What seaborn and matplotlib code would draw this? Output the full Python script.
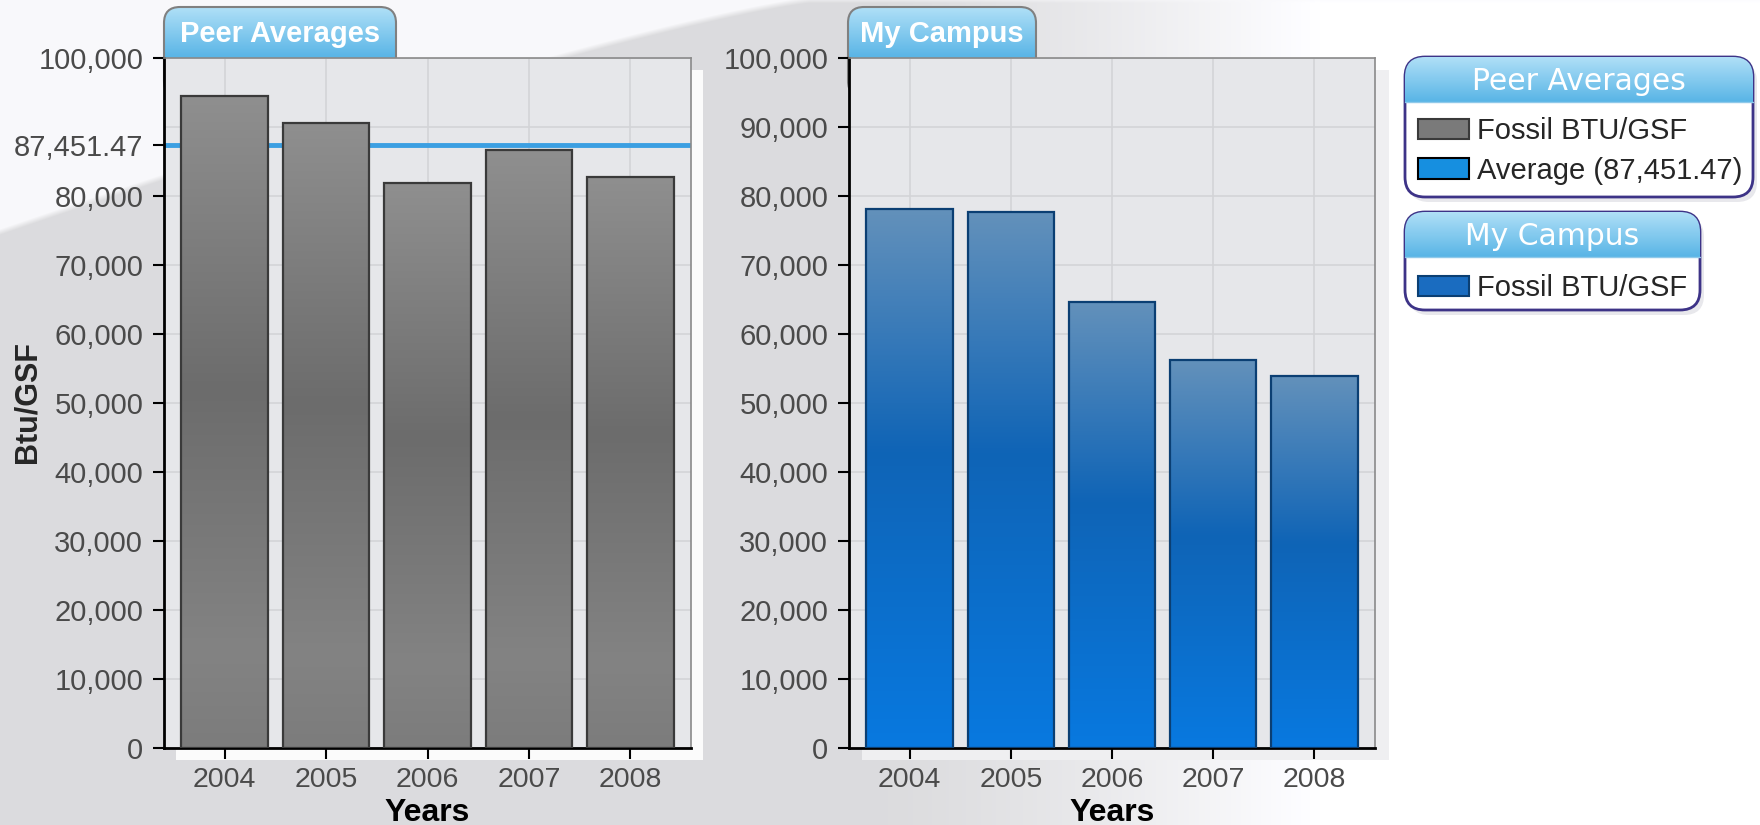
import numpy as np
import matplotlib
matplotlib.use("Agg")
import matplotlib.pyplot as plt
import seaborn as sns
from matplotlib.colors import LinearSegmentedColormap
from matplotlib.patches import FancyBboxPatch, Patch, Rectangle

# values
years = ["2004", "2005", "2006", "2007", "2008"]
peer_btu = [94430, 90590, 81880, 86650, 82760]
campus_btu = [78060, 77680, 64680, 56230, 53900]
peer_average = 87451.47
y_ticks = [0, 10000, 20000, 30000, 40000, 50000, 60000, 70000, 80000, 90000, 100000]

W, H = 1760, 825

sns.set_style("white")
plt.rcParams["font.family"] = ["Liberation Sans", "DejaVu Sans"]

fig = plt.figure(figsize=(17.6, 8.25), dpi=100)
fig.patch.set_facecolor("white")


def gradient_fill(ax, extent, stops, clip, zorder):
    cmap = LinearSegmentedColormap.from_list("grad", stops, N=512)
    grad = np.linspace(0, 1, 512).reshape(-1, 1)
    im = ax.imshow(grad, cmap=cmap, extent=extent, aspect="auto", origin="upper",
                   zorder=zorder, interpolation="bilinear")
    im.set_clip_path(clip)
    return im


# background layer in pixel coordinates
bg = fig.add_axes([0, 0, 1, 1], zorder=-5)
X, Y = np.meshgrid(np.arange(W) + 0.5, np.arange(H) + 0.5)
shade = 0.862 + 0.138 * np.clip((X - 880) / 440, 0, 1) ** 1.3
curve = 232 * np.clip(1 - X / 810, 0, 1) ** 1.2
edge = np.clip((curve - Y) / 6 + 0.5, 0, 1)
shade = shade * (1 - edge) + 0.975 * edge
bg.imshow(np.dstack([shade, shade, np.clip(shade * 1.01, 0, 1)]), extent=(0, W, H, 0),
          aspect="auto", interpolation="bilinear", zorder=0)
bg.set_xlim(0, W)
bg.set_ylim(H, 0)
bg.axis("off")

# panel shadows
bg.add_patch(Rectangle((176, 70), 527, 690, fc="#fbfbfb", ec="none", zorder=1))
bg.add_patch(Rectangle((862, 70), 527, 690, fc="#efeff1", ec="none", zorder=1))

tab_stops = [(0, "#b0e0f7"), (1, "#58b4e6")]


def tab(x0, width, label):
    box = FancyBboxPatch((x0, 7), width, 90, boxstyle="round,pad=0,rounding_size=16",
                         fc="none", ec="#808080", lw=1.5, zorder=3)
    bg.add_patch(box)
    gradient_fill(bg, (x0, x0 + width, 58, 7), tab_stops, box, 2)
    bg.text(x0 + width / 2, 34, label, ha="center", va="center", color="white",
            fontsize=21, fontweight="bold", zorder=4)


tab(164, 232, "Peer Averages")
tab(848, 188, "My Campus")


def legend_box(x0, y0, width, height, head, title):
    bg.add_patch(FancyBboxPatch((x0 + 4, y0 + 5), width, height,
                                boxstyle="round,pad=0,rounding_size=20",
                                fc="#e8e8ec", ec="none", zorder=1))
    box = FancyBboxPatch((x0, y0), width, height, boxstyle="round,pad=0,rounding_size=20",
                         fc="white", ec="#3d3387", lw=2, zorder=3)
    bg.add_patch(box)
    gradient_fill(bg, (x0, x0 + width, y0 + head, y0), tab_stops, box, 3.5)
    bg.plot([x0, x0 + width], [y0 + head, y0 + head], color="#8fc9ea", lw=1, zorder=3.6)
    bg.text(x0 + width / 2, y0 + head / 2 + 2, title, ha="center", va="center",
            color="white", fontsize=21.5, family="DejaVu Sans", zorder=4)


legend_box(1405, 57, 348, 140, 45, "Peer Averages")
legend_box(1405, 212, 295, 98, 45, "My Campus")

# the two bar panels
ax1 = fig.add_axes([164 / W, 1 - 748 / H, 527 / W, 690 / H])
ax2 = fig.add_axes([849 / W, 1 - 748 / H, 526 / W, 690 / H])

sns.barplot(x=years, y=peer_btu, ax=ax1, color="#7a7a7a", width=0.855,
            edgecolor="#3a3a3a", linewidth=1.6)
sns.barplot(x=years, y=campus_btu, ax=ax2, color="#1a6cc0", width=0.855,
            edgecolor="#0b3f73", linewidth=1.6)

gray_stops = [(0, "#8f8f8f"), (0.45, "#6c6c6c"), (0.85, "#838383"), (1, "#7c7c7c")]
blue_stops = [(0, "#6391bb"), (0.45, "#0f64b6"), (1, "#0879e0")]

for ax, stops in [(ax1, gray_stops), (ax2, blue_stops)]:
    for bar in list(ax.patches):
        x, w, h = bar.get_x(), bar.get_width(), bar.get_height()
        bar.set_facecolor("none")
        bar.set_zorder(3)
        gradient_fill(ax, (x, x + w, 0, h), stops, bar, 2.8)

ax1.axhline(peer_average, color="#3b9fe2", lw=3.5, zorder=2)

for ax in (ax1, ax2):
    ax.set_xlim(-0.6, 4.6)
    ax.set_ylim(0, 100000)
    ax.set_facecolor("#e6e7ea")
    ax.set_axisbelow(True)
    ax.set_yticks(y_ticks)
    ax.set_yticklabels([f"{v:,}" for v in y_ticks])
    ax.grid(True, color="#d3d4d7", lw=1.2)
    ax.tick_params(axis="y", which="both", length=8, width=1.5, color="black",
                   labelsize=21, labelcolor="#4a4a4a", pad=7, left=True)
    ax.tick_params(axis="x", length=8, width=1.5, color="black", direction="out",
                   labelsize=20.5, labelcolor="#4a4a4a", pad=6, bottom=True)
    for side in ("left", "bottom"):
        ax.spines[side].set_color("black")
        ax.spines[side].set_linewidth(2)
    for side in ("top", "right"):
        ax.spines[side].set_visible(True)
        ax.spines[side].set_color("#8a8a8a")
        ax.spines[side].set_linewidth(1.2)
    ax.set_xlabel("Years", fontsize=23, fontweight="bold", color="black", labelpad=3)
    ax.set_ylabel("")

# left panel: the average replaces the 90,000 label
labels = [f"{v:,}" for v in y_ticks]
labels[9] = ""
ax1.set_yticklabels(labels)
ax1.yaxis.get_major_ticks()[9].tick1line.set_visible(False)
ax1.set_yticks([peer_average], minor=True, labels=[f"{peer_average:,.2f}"])

fig.text(27 / W, 1 - 402 / H, "Btu/GSF", rotation=90, ha="center", va="center",
         fontsize=22, fontweight="bold")

# legend entries
leg_kw = dict(loc="upper left", frameon=False, fontsize=21, handlelength=1.75,
              handleheight=0.7, handletextpad=0.27, labelspacing=0.4,
              borderpad=0, borderaxespad=0)
h_peer = [Patch(fc="#7a7a7a", ec="#3a3a3a", lw=1.5), Patch(fc="#168fe0", ec="black", lw=1.5)]
fig.legend(h_peer, ["Fossil BTU/GSF", f"Average ({peer_average:,.2f})"],
           bbox_to_anchor=(1418 / W, 1 - 117 / H), **leg_kw)
h_campus = [Patch(fc="#1a6cc0", ec="#0b3f73", lw=1.5)]
fig.legend(h_campus, ["Fossil BTU/GSF"], bbox_to_anchor=(1418 / W, 1 - 274 / H), **leg_kw)

fig.savefig("out.png", dpi=100)
